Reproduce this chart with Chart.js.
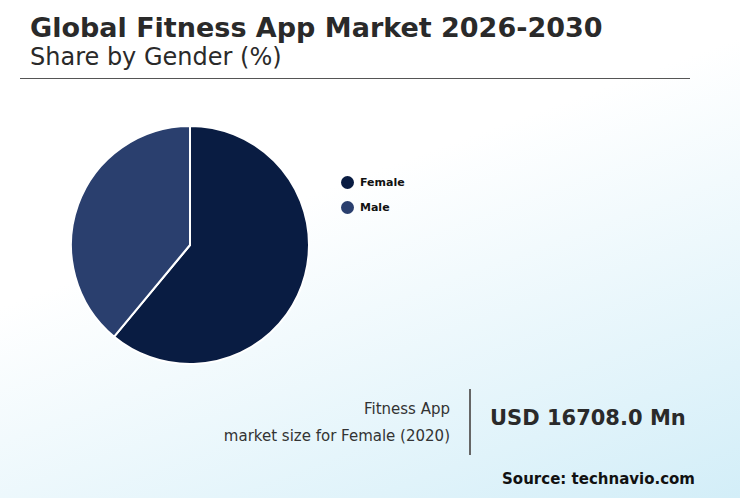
<!DOCTYPE html>
<html><head><meta charset="utf-8">
<script src="https://cdn.jsdelivr.net/npm/chart.js@4"></script>
<style>
body{margin:0;width:740px;height:498px;overflow:hidden;font-family:"DejaVu Sans",sans-serif;background:linear-gradient(160deg,#ffffff 0%,#ffffff 40%,#d3eef8 100%);position:relative;color:#222}
.a{position:absolute;white-space:nowrap}
</style></head><body>
<div class="a" style="left:30px;top:12px;font-size:27px;font-weight:bold;color:#2a2a2a">Global Fitness App Market 2026-2030</div>
<div class="a" style="left:30px;top:43px;font-size:24px;color:#2a2a2a">Share by Gender (%)</div>
<div class="a" style="left:20px;top:78px;width:670px;height:1px;background:#555"></div>
<div class="a" style="left:70px;top:125px;width:240px;height:240px"><canvas id="c"></canvas></div>
<div id="lg" class="a" style="left:341px;top:175px"></div>
<div class="a" style="right:290px;top:400px;font-size:15px;color:#333;text-align:right">Fitness App</div>
<div class="a" style="right:290px;top:427px;font-size:15px;color:#333;text-align:right">market size for Female (2020)</div>
<div class="a" style="left:469px;top:389px;width:2px;height:66px;background:#666"></div>
<div class="a" style="left:490px;top:406px;font-size:21px;font-weight:bold;color:#2a2a2a">USD 16708.0 Mn</div>
<div class="a" style="right:45px;top:470px;font-size:15px;font-weight:bold;color:#111">Source: technavio.com</div>
<script>
const categories=["Female","Male"];
const shares=[61,39];
const colors=["#091c42","#2a3f6e"];
new Chart(document.getElementById('c'),{type:'pie',
data:{labels:categories,datasets:[{data:shares,backgroundColor:colors,borderColor:'#ffffff',borderWidth:2}]},
options:{responsive:true,maintainAspectRatio:false,animation:false,layout:{padding:0},
plugins:{legend:{display:false},tooltip:{enabled:false}}}});
document.getElementById('lg').innerHTML=categories.map((c,i)=>`<div style="display:flex;align-items:center;height:35px;margin-top:-10px"><span style="width:13px;height:13px;border-radius:50%;background:${colors[i]};display:inline-block;margin-right:6px"></span><span style="font-size:11px;font-weight:bold;color:#111">${c}</span></div>`).join('');
</script>
</body></html>
